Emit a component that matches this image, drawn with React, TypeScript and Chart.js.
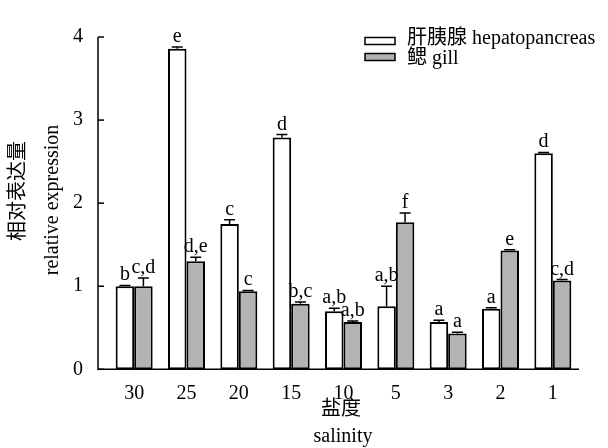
import React, { useEffect, useRef } from "react";
import { Chart, registerables } from "chart.js";

Chart.register(...registerables);

const categories = ["30", "25", "20", "15", "10", "5", "3", "2", "1"];
const hepatoValues = [1.0, 3.86, 1.75, 2.79, 0.7, 0.76, 0.57, 0.73, 2.6];
const hepatoErrors = [0.01, 0.02, 0.05, 0.035, 0.035, 0.24, 0.02, 0.01, 0.01];
const hepatoLetters = ["b", "e", "c", "d", "a,b", "a,b", "a", "a", "d"];
const gillValues = [1.0, 1.3, 0.94, 0.79, 0.57, 1.77, 0.43, 1.43, 1.07];
const gillErrors = [0.1, 0.05, 0.01, 0.02, 0.01, 0.11, 0.015, 0.01, 0.01];
const gillLetters = ["c,d", "d,e", "c", "b,c", "a,b", "f", "a", "e", "c,d"];
const yTicks = [0, 1, 2, 3, 4];
const legendLabels = ["肝胰腺 hepatopancreas", "鳃 gill"];
const yTitleZh = "相对表达量";
const yTitleEn = "relative expression";
const xTitleZh = "盐度";
const xTitleEn = "salinity";

const FONT = "'Liberation Serif', 'Noto Sans CJK SC', serif";
const GRAY = "#b3b3b3";

const errors = [hepatoErrors, gillErrors];
const letters = [hepatoLetters, gillLetters];

const decorPlugin = {
  id: "decor",
  afterDatasetsDraw(chart: any) {
    const ctx = chart.ctx;
    const y = chart.scales.y;
    const area = chart.chartArea;
    const axisX = area.left - 10;
    ctx.save();
    ctx.strokeStyle = "#000";
    ctx.lineWidth = 1.5;
    ctx.beginPath();
    ctx.moveTo(axisX, y.getPixelForValue(4));
    ctx.lineTo(axisX, y.getPixelForValue(0));
    ctx.lineTo(area.right, y.getPixelForValue(0));
    ctx.stroke();
    yTicks.forEach((t) => {
      const py = y.getPixelForValue(t);
      ctx.beginPath();
      ctx.moveTo(axisX, py);
      ctx.lineTo(axisX + 6, py);
      ctx.stroke();
    });
    ctx.fillStyle = "#000";
    ctx.font = "20px " + FONT;
    ctx.textAlign = "center";
    ctx.textBaseline = "alphabetic";
    chart.data.datasets.forEach((ds: any, di: number) => {
      const meta = chart.getDatasetMeta(di);
      meta.data.forEach((el: any, j: number) => {
        const v = ds.data[j];
        const top = y.getPixelForValue(v);
        const capY = y.getPixelForValue(v + errors[di][j]);
        ctx.beginPath();
        ctx.moveTo(el.x, top);
        ctx.lineTo(el.x, capY);
        ctx.moveTo(el.x - 5.5, capY);
        ctx.lineTo(el.x + 5.5, capY);
        ctx.stroke();
        ctx.fillText(letters[di][j], el.x, capY - 5);
      });
    });
    ctx.restore();
  },
  afterDraw(chart: any) {
    const ctx = chart.ctx;
    ctx.save();
    ctx.fillStyle = "#000";
    ctx.strokeStyle = "#000";
    ctx.lineWidth = 1.5;
    const rows = [
      { boxY: 37.5, textY: 44, fill: "#fff" },
      { boxY: 53.5, textY: 63.5, fill: GRAY },
    ];
    ctx.font = "20px " + FONT;
    ctx.textAlign = "left";
    ctx.textBaseline = "alphabetic";
    rows.forEach((r, i) => {
      ctx.fillStyle = r.fill;
      ctx.fillRect(365, r.boxY, 30, 7);
      ctx.strokeRect(365, r.boxY, 30, 7);
      ctx.fillStyle = "#000";
      ctx.fillText(legendLabels[i], 407, r.textY);
    });
    ctx.textAlign = "center";
    ctx.textBaseline = "middle";
    ctx.fillText(xTitleZh, 341, 410);
    ctx.textBaseline = "alphabetic";
    ctx.fillText(xTitleEn, 343, 442);
    ctx.save();
    ctx.translate(19, 191);
    ctx.rotate(-Math.PI / 2);
    ctx.textBaseline = "middle";
    ctx.fillText(yTitleZh, 0, 0);
    ctx.restore();
    ctx.save();
    ctx.translate(58, 200);
    ctx.rotate(-Math.PI / 2);
    ctx.textBaseline = "alphabetic";
    ctx.fillText(yTitleEn, 0, 0);
    ctx.restore();
    ctx.restore();
  },
};

export default function App() {
  const ref = useRef<HTMLCanvasElement | null>(null);
  useEffect(() => {
    document.body.style.margin = "0";
    const canvas = ref.current;
    if (!canvas) return;
    const chart = new Chart(canvas, {
      type: "bar",
      data: {
        labels: categories,
        datasets: [
          {
            label: legendLabels[0],
            data: hepatoValues,
            backgroundColor: "#ffffff",
            borderColor: "#000000",
            borderWidth: 2,
            borderSkipped: false,
            categoryPercentage: 0.707,
            barPercentage: 1.0,
          },
          {
            label: legendLabels[1],
            data: gillValues,
            backgroundColor: GRAY,
            borderColor: "#000000",
            borderWidth: 2,
            borderSkipped: false,
            categoryPercentage: 0.707,
            barPercentage: 1.0,
          },
        ],
      },
      options: {
        responsive: false,
        animation: false,
        devicePixelRatio: 1,
        layout: { padding: { left: 0, right: 29, top: 22.5, bottom: 0 } },
        plugins: { legend: { display: false }, tooltip: { enabled: false } },
        scales: {
          x: {
            grid: { display: false, drawTicks: false },
            border: { display: false },
            ticks: {
              color: "#000",
              font: { family: FONT, size: 20 },
              padding: 12,
              maxRotation: 0,
            },
            afterFit: (s: any) => {
              s.height = 78.7;
            },
          },
          y: {
            min: 0,
            max: 4,
            grid: { display: false, drawTicks: false },
            border: { display: false },
            ticks: {
              stepSize: 1,
              color: "#000",
              font: { family: FONT, size: 20 },
              padding: 25,
            },
            afterFit: (s: any) => {
              s.width = 108;
            },
          },
        },
      },
      plugins: [decorPlugin],
    });
    return () => chart.destroy();
  }, []);
  return (
    <div style={{ width: 608, height: 448 }}>
      <canvas ref={ref} width={608} height={448} style={{ display: "block" }} />
    </div>
  );
}
